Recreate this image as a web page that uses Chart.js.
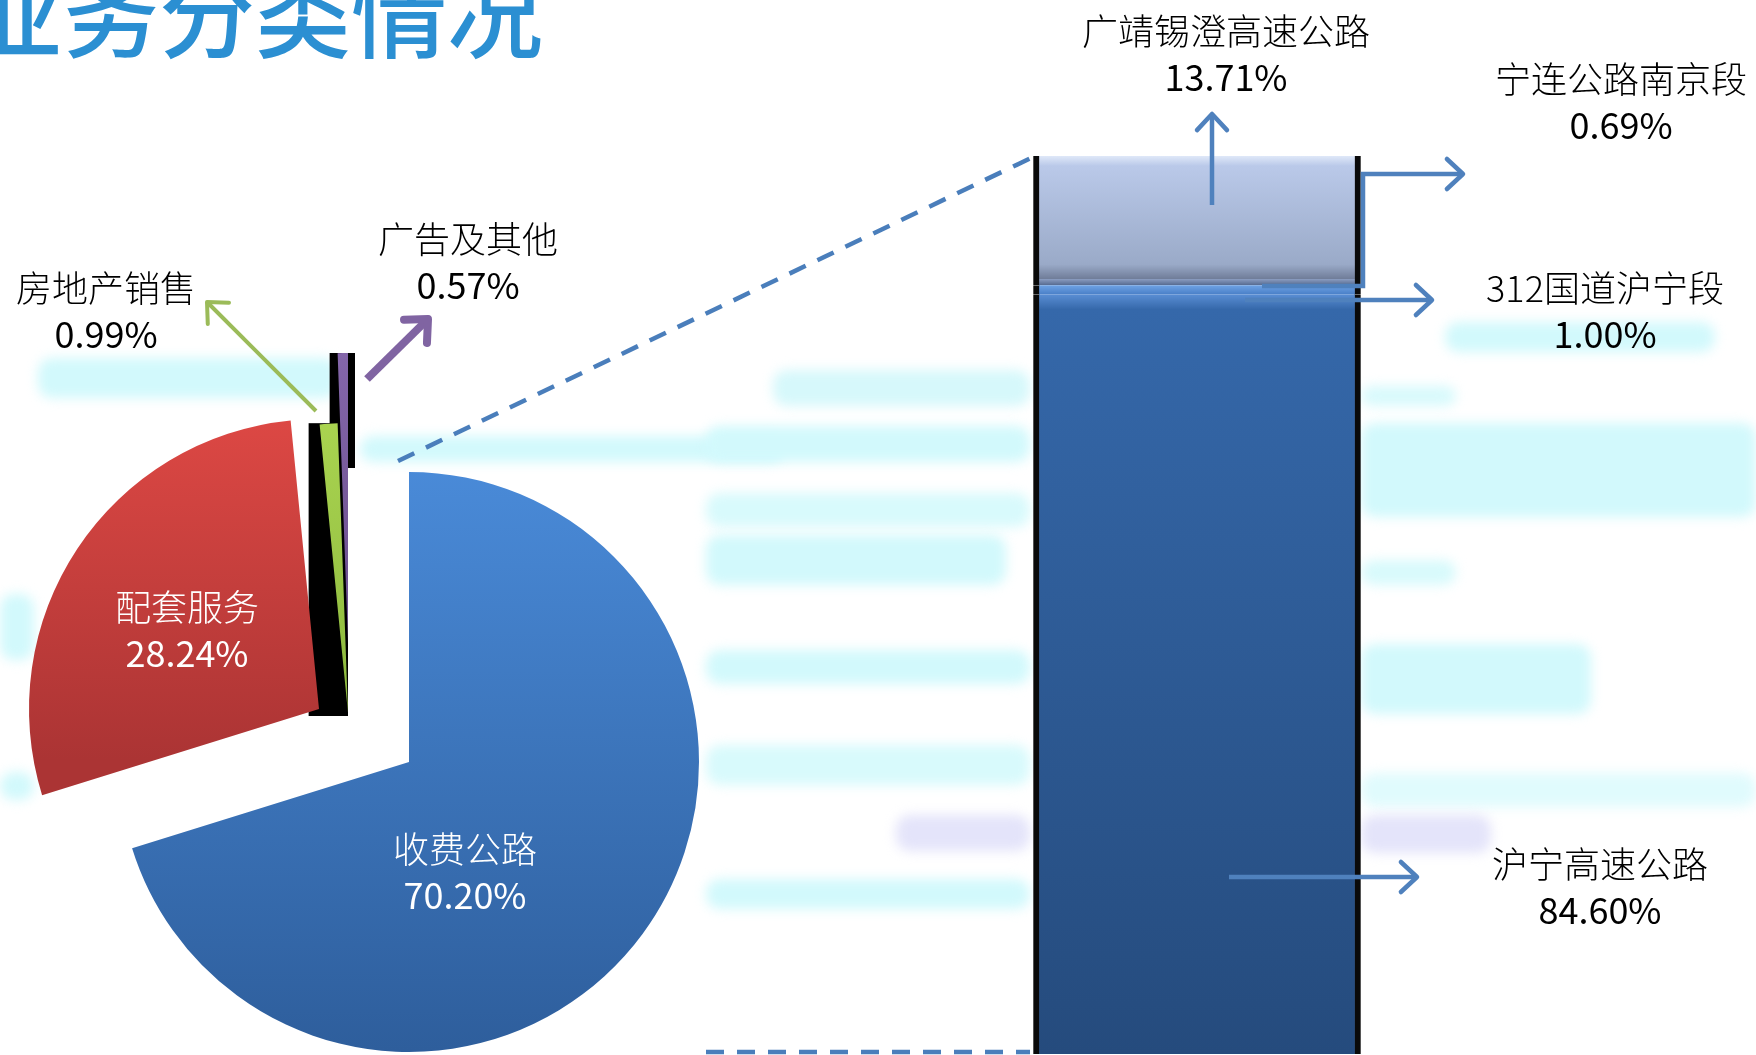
<!DOCTYPE html>
<html><head><meta charset="utf-8">
<script src="https://cdn.jsdelivr.net/npm/chart.js@4.4.1/dist/chart.umd.min.js"></script>
<style>
html,body{margin:0;padding:0;width:1756px;height:1055px;overflow:hidden;background:#fff;}
#stage{position:relative;width:1756px;height:1055px;overflow:hidden;background:#fff;}
.streak{position:absolute;filter:blur(6px);border-radius:14px;}
canvas{position:absolute;}
#title{position:absolute;left:-33px;top:-39px;font-family:"Noto Sans CJK SC",sans-serif;font-size:96px;line-height:96px;color:#2b8fd2;white-space:nowrap;font-weight:500;}
.lbl{position:absolute;transform:translate(-50%,-50%);text-align:center;font-family:"Noto Sans CJK SC","Noto Sans",sans-serif;font-size:36px;line-height:46px;color:#000;white-space:nowrap;}
.lbl .a{font-weight:300;}
.lbl .b{font-weight:400;}
.lbl.w{color:#fff;}
svg{position:absolute;left:0;top:0;}
</style></head>
<body><div id="stage">
<div id="streaks"></div>
<div id="title">业务分类情况</div>
<canvas id="pie" width="1756" height="1055" style="left:0;top:0"></canvas>
<canvas id="bar" width="400" height="1055" style="left:997px;top:0"></canvas>
<svg id="ov" width="1756" height="1055"></svg>
<div id="labels"></div>
</div>
<script>
// ---- data ----
const pieLabels = ['收费公路', '配套服务', '房地产销售', '广告及其他'];
const pieValues = [70.20, 28.24, 0.99, 0.57];
const barCategory = ['收费公路'];
const barLabels = ['沪宁高速公路', '312国道沪宁段', '宁连公路南京段', '广靖锡澄高速公路'];
const barValues = [84.60, 1.00, 0.69, 13.71];

// ---- styles ----
const pieTop = ['#4a8bd9', '#dd4844', '#aad450', '#8466aa'];
const pieBottom = ['#2e5e9c', '#ab3434', '#8cb83e', '#6a4f8c'];
const pieGradY = [[460, 1050], [415, 760], [420, 710], [350, 640]];
const sliceShift = [[0, 0], [-90, -53], [-61, -49], [-61, -119]];
// black "side" blocks behind the thin slices: [sliceIndex, padLeft, padRight, extraBottom, heightOrNull]
const sideBlocks = [[2, 11, 0, 3, null], [3, 8, 7, 0, 115]];
const barStops = [
  [[0, '#5a8ed4'], [0.02, '#3568aa'], [1, '#254b7d']],
  [[0, '#6ea2e4'], [1, '#4a80c8']],
  [[0, '#8a9cc0'], [1, '#55698e']],
  [[0, '#dfe8f8'], [0.08, '#bac9e9'], [0.88, '#9aaac8'], [1, '#6f7c98']]
];

// background streaks (decoration)
const streaks = [
  [38,358,300,40,'#d2f9fc'],[360,436,424,26,'#d2f9fc'],[0,594,34,66,'#d2f9fc'],[0,772,34,28,'#d2f9fc'],
  [773,370,257,36,'#d6f8fb'],[706,426,324,36,'#d2f9fc'],[706,493,324,34,'#d8fafc'],[706,535,300,50,'#d2f9fc'],
  [706,650,324,34,'#d2f9fc'],[706,745,324,40,'#d8fafc'],[896,815,134,36,'#e4e4fa'],[706,879,324,30,'#d2f9fc'],
  [1445,322,270,30,'#d2f9fc'],[1361,386,95,20,'#d8fafc'],[1361,423,395,94,'#d2f9fc'],[1361,560,95,25,'#d8fafc'],
  [1361,644,230,70,'#d2f9fc'],[1361,773,395,34,'#e0fbfd'],[1361,815,130,38,'#e4e4fa']
];
const sEl = document.getElementById('streaks');
streaks.forEach(s => {
  const d = document.createElement('div');
  d.className = 'streak';
  d.style.cssText = `left:${s[0]}px;top:${s[1]}px;width:${s[2]}px;height:${s[3]}px;background:${s[4]}`;
  sEl.appendChild(d);
});

// ---- pie ----
const explodePlugin = {
  id: 'explode',
  afterDatasetsUpdate(chart) {
    chart.getDatasetMeta(0).data.forEach((a, i) => { a.x += sliceShift[i][0]; a.y += sliceShift[i][1]; });
  },
  beforeDatasetsDraw(chart) {
    const ctx = chart.ctx, arcs = chart.getDatasetMeta(0).data;
    ctx.save();
    ctx.fillStyle = '#000';
    sideBlocks.forEach(([i, pl, pr, eb, h]) => {
      const a = arcs[i];
      const xs = [a.x, a.x + a.outerRadius * Math.cos(a.startAngle), a.x + a.outerRadius * Math.cos(a.endAngle)];
      const ys = [a.y, a.y + a.outerRadius * Math.sin(a.startAngle), a.y + a.outerRadius * Math.sin(a.endAngle)];
      const x0 = Math.min(...xs) - pl, x1 = Math.max(...xs) + pr;
      const y0 = Math.min(...ys), y1 = h ? y0 + h : Math.max(...ys) + eb;
      ctx.fillRect(x0, y0, x1 - x0, y1 - y0);
    });
    ctx.restore();
  }
};
function pieFill(c) {
  const i = c.dataIndex;
  const g = c.chart.ctx.createLinearGradient(0, pieGradY[i][0], 0, pieGradY[i][1]);
  g.addColorStop(0, pieTop[i]); g.addColorStop(1, pieBottom[i]);
  return g;
}
new Chart(document.getElementById('pie'), {
  type: 'pie',
  data: { labels: pieLabels, datasets: [{ data: pieValues, backgroundColor: pieFill, borderWidth: 0, radius: 290, clip: false }] },
  options: {
    responsive: false, animation: false, events: [], radius: 290,
    layout: { padding: { left: 0, right: 938, top: 469, bottom: 0 } },
    plugins: { legend: { display: false }, tooltip: { enabled: false } }
  },
  plugins: [explodePlugin]
});

// ---- bar ----
function barFill(i) {
  return c => {
    const chart = c.chart, y = chart.scales && chart.scales.y;
    if (!y || !chart.chartArea) return barStops[i][1] ? barStops[i][1][1] : barStops[i][0][1];
    let start = 0;
    for (let k = 0; k < i; k++) start += barValues[k];
    const top = y.getPixelForValue(start + barValues[i]);
    const bot = Math.min(y.getPixelForValue(start), chart.chartArea.bottom);
    if (!isFinite(top) || !isFinite(bot) || bot <= top) return barStops[i][0][1];
    const g = chart.ctx.createLinearGradient(0, top, 0, bot);
    barStops[i].forEach(s => g.addColorStop(s[0], s[1]));
    return g;
  };
}
new Chart(document.getElementById('bar'), {
  type: 'bar',
  data: {
    labels: barCategory,
    datasets: barLabels.map((l, i) => ({
      label: l, data: [barValues[i]], backgroundColor: barFill(i),
      borderColor: '#0a0a0a', borderWidth: { left: 6, right: 6, top: 0, bottom: 0 },
      borderSkipped: false, barThickness: 327
    }))
  },
  options: {
    responsive: false, animation: false, events: [],
    layout: { padding: { top: 156, bottom: 1, left: 0, right: 0 } },
    scales: { x: { stacked: true, display: false }, y: { stacked: true, display: false, min: 0, max: 100 } },
    plugins: { legend: { display: false }, tooltip: { enabled: false } }
  }
});

// ---- annotations ----
const NS = 'http://www.w3.org/2000/svg';
const ov = document.getElementById('ov');
function el(tag, attrs) { const e = document.createElementNS(NS, tag); for (const k in attrs) e.setAttribute(k, attrs[k]); ov.appendChild(e); return e; }
function arrow(pts, color, w, head) {
  el('polyline', { points: pts.map(p => p.join(',')).join(' '), fill: 'none', stroke: color, 'stroke-width': w, 'stroke-linejoin': 'miter' });
  const [x1, y1] = pts[pts.length - 2], [x2, y2] = pts[pts.length - 1];
  const a = Math.atan2(y2 - y1, x2 - x1), da = 0.75;
  const p1 = [x2 - head * Math.cos(a - da), y2 - head * Math.sin(a - da)];
  const p2 = [x2 - head * Math.cos(a + da), y2 - head * Math.sin(a + da)];
  el('polyline', { points: `${p1.join(',')} ${x2},${y2} ${p2.join(',')}`, fill: 'none', stroke: color, 'stroke-width': w, 'stroke-linecap': 'round', 'stroke-linejoin': 'round' });
}
el('line', { x1: 398, y1: 461, x2: 1033, y2: 157, stroke: '#4a7ebb', 'stroke-width': 4.5, 'stroke-dasharray': '18 13' });
el('line', { x1: 706, y1: 1052, x2: 1030, y2: 1052, stroke: '#4a7ebb', 'stroke-width': 4.5, 'stroke-dasharray': '18 13' });
arrow([[316, 411], [207, 302]], '#9bbb59', 4, 22);
arrow([[367, 379], [428, 319]], '#8064a2', 8, 24);
arrow([[1212, 205], [1212, 114]], '#4f81bd', 4.5, 22);
arrow([[1262, 286], [1363, 286], [1363, 174], [1463, 174]], '#4f81bd', 4.5, 22);
arrow([[1245, 300], [1432, 300]], '#4f81bd', 4.5, 22);
arrow([[1229, 877], [1417, 877]], '#4f81bd', 4.5, 22);

const labelPos = [
  ['收费公路', '70.20%', 465, 870, true],
  ['配套服务', '28.24%', 187, 628, true],
  ['房地产销售', '0.99%', 106, 309, false],
  ['广告及其他', '0.57%', 468, 260, false],
  ['沪宁高速公路', '84.60%', 1600, 885, false],
  ['312国道沪宁段', '1.00%', 1605, 309, false],
  ['宁连公路南京段', '0.69%', 1621, 100, false],
  ['广靖锡澄高速公路', '13.71%', 1226, 52, false]
];
const lEl = document.getElementById('labels');
labelPos.forEach(l => {
  const d = document.createElement('div');
  d.className = 'lbl' + (l[4] ? ' w' : '');
  d.style.left = l[2] + 'px'; d.style.top = l[3] + 'px';
  d.innerHTML = '<span class="a">' + l[0] + '</span><br><span class="b">' + l[1] + '</span>';
  lEl.appendChild(d);
});
</script>
</body></html>
